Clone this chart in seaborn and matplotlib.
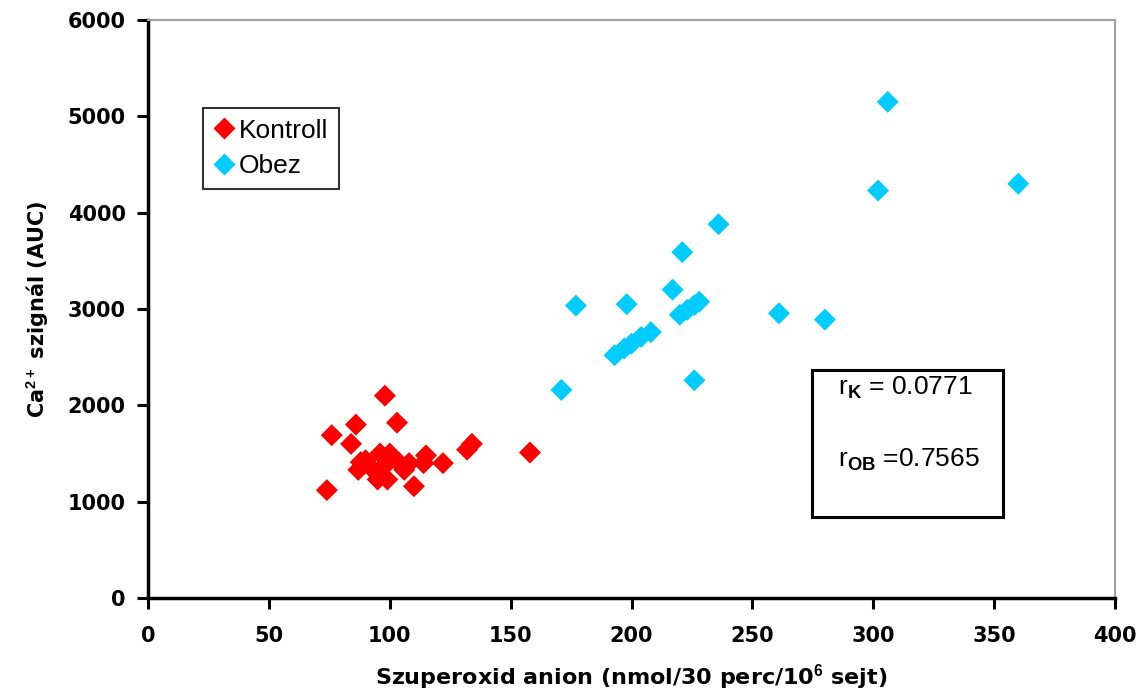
import matplotlib
matplotlib.use("Agg")
import matplotlib.pyplot as plt
import matplotlib.patches as mpatches
from matplotlib.lines import Line2D
import seaborn as sns
import pandas as pd

# ---- data ----
kontroll_x = [74, 76, 84, 86, 98, 103, 88, 87, 96, 92, 90, 96, 95, 99, 99, 104,
              108, 106, 100, 110, 114, 115, 122, 132, 134, 158]
kontroll_y = [1120, 1690, 1600, 1800, 2100, 1820, 1410, 1330, 1500, 1360, 1430, 1330,
              1230, 1230, 1400, 1400, 1400, 1330, 1500, 1160, 1400, 1480, 1400, 1540,
              1600, 1510]
obez_x = [306, 302, 360, 236, 221, 217, 177, 198, 261, 280, 171, 226, 220, 223,
          226, 228, 193, 197, 200, 204, 208]
obez_y = [5150, 4230, 4300, 3880, 3590, 3200, 3035, 3050, 2955, 2890, 2160, 2260,
          2940, 2990, 3040, 3075, 2520, 2590, 2640, 2710, 2760]
groups = ["Kontroll", "Obez"]
colors = ["#FF0000", "#00CCFF"]
x_ticks = [0, 50, 100, 150, 200, 250, 300, 350, 400]
y_ticks = [0, 1000, 2000, 3000, 4000, 5000, 6000]
stats_text = [r"r$_{\mathbf{K}}$ = 0.0771", r"r$_{\mathbf{OB}}$ =0.7565"]
x_label = r"Szuperoxid anion (nmol/30 perc/10$^{\mathbf{6}}$ sejt)"
y_label = r"Ca$^{\mathbf{2+}}$ szignál (AUC)"

df = pd.DataFrame({
    "x": kontroll_x + obez_x,
    "y": kontroll_y + obez_y,
    "g": [groups[0]] * len(kontroll_x) + [groups[1]] * len(obez_x),
})

sns.set_theme(style="white")
plt.rcParams["font.family"] = ["DejaVu Sans"]
plt.rcParams["text.color"] = "black"
plt.rcParams["axes.labelcolor"] = "black"
plt.rcParams["xtick.color"] = "black"
plt.rcParams["ytick.color"] = "black"
plt.rcParams["mathtext.fontset"] = "custom"
plt.rcParams["mathtext.rm"] = "Liberation Sans"
plt.rcParams["mathtext.bf"] = "Liberation Sans:bold"

fig = plt.figure(figsize=(11.38, 6.96), dpi=100)
ax = fig.add_axes([148 / 1138, 1 - 598 / 696, (1115 - 148) / 1138, (598 - 20) / 696])

sns.scatterplot(data=df, x="x", y="y", hue="g", hue_order=groups,
                palette=dict(zip(groups, colors)), marker="D", s=125,
                edgecolor="none", linewidth=0, ax=ax, legend=False)

ax.set_xlim(0, 400)
ax.set_ylim(0, 6000)
ax.set_xticks(x_ticks)
ax.set_yticks(y_ticks)
ax.set_xticklabels([str(t) for t in x_ticks], fontsize=15, fontweight="bold")
ax.set_yticklabels([str(t) for t in y_ticks], fontsize=15, fontweight="bold")
ax.tick_params(axis="both", which="major", direction="out", length=8, width=2.2,
               color="black", labelcolor="black", bottom=True, left=True,
               top=False, right=False)
ax.tick_params(axis="x", pad=12)
ax.tick_params(axis="y", pad=8)

for side in ["left", "bottom"]:
    ax.spines[side].set_color("black")
    ax.spines[side].set_linewidth(2.5)
for side in ["top", "right"]:
    ax.spines[side].set_color("#A0A0A0")
    ax.spines[side].set_linewidth(1.5)

ax.set_xlabel(x_label, fontsize=16, fontweight="bold", labelpad=12, color="black")
ax.set_ylabel(y_label, fontsize=15, fontweight="bold", labelpad=12, color="black")
ax.grid(False)

# legend
handles = [Line2D([0], [0], marker="D", linestyle="none", markersize=11,
                  markerfacecolor=c, markeredgecolor="none") for c in colors]
leg = ax.legend(handles, groups, loc="upper left",
                bbox_to_anchor=(203 / 1138, 1 - 108 / 696),
                bbox_transform=fig.transFigure, frameon=True, fancybox=False,
                edgecolor="black", handlelength=0.8, handletextpad=0.15,
                borderpad=0.4, labelspacing=0.45, borderaxespad=0,
                prop={"family": "Liberation Sans", "size": 19})
leg.get_frame().set_linewidth(1.5)
for t in leg.get_texts():
    t.set_color("black")

# stats box
rect = mpatches.Rectangle((812 / 1138, 1 - 517 / 696), (1003 - 812) / 1138,
                          (517 - 370) / 696, transform=fig.transFigure,
                          fill=False, edgecolor="black", linewidth=2.2)
fig.patches.append(rect)
fig.text(838 / 1138, 1 - 388 / 696, stats_text[0], fontsize=19, color="black",
         family="Liberation Sans", va="center", ha="left")
fig.text(838 / 1138, 1 - 460 / 696, stats_text[1], fontsize=19, color="black",
         family="Liberation Sans", va="center", ha="left")

fig.savefig("out.png", dpi=100)
